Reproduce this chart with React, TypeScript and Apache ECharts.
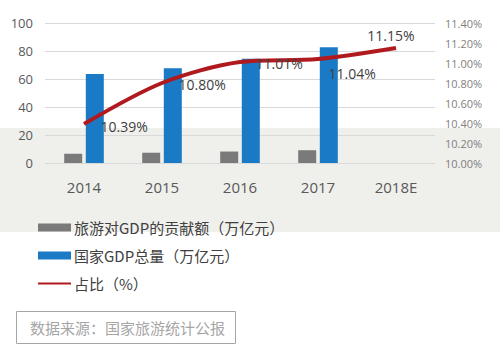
import React, { useEffect, useRef } from "react";
import * as echarts from "echarts";

const categories = ["2014", "2015", "2016", "2017", "2018E"];
const tourismContribution = [6.61, 7.34, 8.19, 9.13, null];
const nationalGDP = [63.6, 67.7, 74.4, 82.7, null];
const sharePct = [10.39, 10.8, 11.01, 11.04, 11.15];
const leftTicks = { min: 0, max: 100, interval: 20 };
const rightTicks = { min: 10, max: 11.4, interval: 0.2 };
const legendNames = ["旅游对GDP的贡献额（万亿元）", "国家GDP总量（万亿元）", "占比（%）"];
const sourceText = "数据来源：国家旅游统计公报";

const FONT = "'Open Sans', 'Noto Sans CJK SC', sans-serif";

const labelPlacement: any[] = [
  { position: "right", distance: 16, offset: [0, 2] },
  { position: "right", distance: 16, offset: [0, 1] },
  { position: "right", distance: 15, offset: [0, 1] },
  { position: "right", distance: 10, offset: [0, 14] },
  { position: "top", distance: 5, offset: [-5, 0] },
];

export default function App() {
  const ref = useRef<HTMLDivElement>(null);
  useEffect(() => {
    if (!ref.current) return;
    const chart = echarts.init(ref.current, null, { renderer: "svg" });
    chart.setOption({
      animation: false,
      backgroundColor: "#ffffff",
      textStyle: { fontFamily: FONT },
      graphic: [
        {
          type: "rect",
          z: -10,
          silent: true,
          shape: { x: 0, y: 128, width: 500, height: 104 },
          style: { fill: "#efefec" },
        },
        {
          type: "rect",
          shape: { x: 16.5, y: 311.5, width: 219, height: 32 },
          style: { fill: "none", stroke: "#a6a6a6", lineWidth: 1 },
        },
        {
          type: "text",
          x: 30,
          y: 327,
          style: {
            text: sourceText,
            fill: "#a6a6a6",
            font: "15px 'Noto Sans CJK SC', sans-serif",
            verticalAlign: "middle",
          },
        },
      ],
      legend: {
        orient: "vertical",
        left: 32,
        top: 215,
        itemWidth: 33,
        itemHeight: 8,
        itemGap: 13,
        data: [
          { name: legendNames[0], icon: "rect" },
          { name: legendNames[1], icon: "rect" },
          { name: legendNames[2], itemStyle: { color: "rgba(0,0,0,0)", opacity: 0 } },
        ],
        textStyle: { fontSize: 15, color: "#404040", fontFamily: "'Noto Sans CJK SC', sans-serif", padding: [0, 0, 0, -2] },
      },
      grid: { left: 45, right: 65, top: 23, bottom: 198 },
      xAxis: {
        type: "category",
        data: categories,
        axisLine: { show: false },
        axisTick: { show: false },
        axisLabel: { fontSize: 15, color: "#595959", margin: 16 },
      },
      yAxis: [
        {
          type: "value",
          min: leftTicks.min,
          max: leftTicks.max,
          interval: leftTicks.interval,
          axisLine: { show: false },
          axisTick: { show: false },
          axisLabel: { fontSize: 13, color: "#595959", margin: 12 },
          splitLine: { lineStyle: { color: "#d9d9d9", width: 1 } },
        },
        {
          type: "value",
          min: rightTicks.min,
          max: rightTicks.max,
          interval: rightTicks.interval,
          position: "right",
          axisLine: { show: false },
          axisTick: { show: false },
          splitLine: { show: false },
          axisLabel: {
            fontSize: 11,
            color: "#7f7f7f",
            margin: 10,
            formatter: (v: number) => v.toFixed(2) + "%",
          },
        },
      ],
      series: [
        {
          name: legendNames[0],
          type: "bar",
          data: tourismContribution,
          barWidth: 18,
          barGap: "20%",
          itemStyle: { color: "#7a7a7a" },
        },
        {
          name: legendNames[1],
          type: "bar",
          data: nationalGDP,
          barWidth: 18,
          barGap: "20%",
          itemStyle: { color: "#1a7ac6" },
        },
        {
          name: legendNames[2],
          type: "line",
          yAxisIndex: 1,
          smooth: 0.3,
          symbol: "circle",
          symbolSize: 1,
          showSymbol: true,
          lineStyle: { color: "#b01a1e", width: 4 },
          itemStyle: { color: "rgba(0,0,0,0)" },
          data: sharePct.map((v, i) => ({
            value: v,
            label: {
              show: true,
              ...labelPlacement[i],
              formatter: (p: any) => Number(p.value).toFixed(2) + "%",
              fontSize: 14,
              color: "#404040",
            },
          })),
        },
      ],
    });
    return () => chart.dispose();
  }, []);
  return (
    <div
      ref={ref}
      style={{ position: "fixed", left: 0, top: 0, width: 500, height: 361 }}
    />
  );
}
